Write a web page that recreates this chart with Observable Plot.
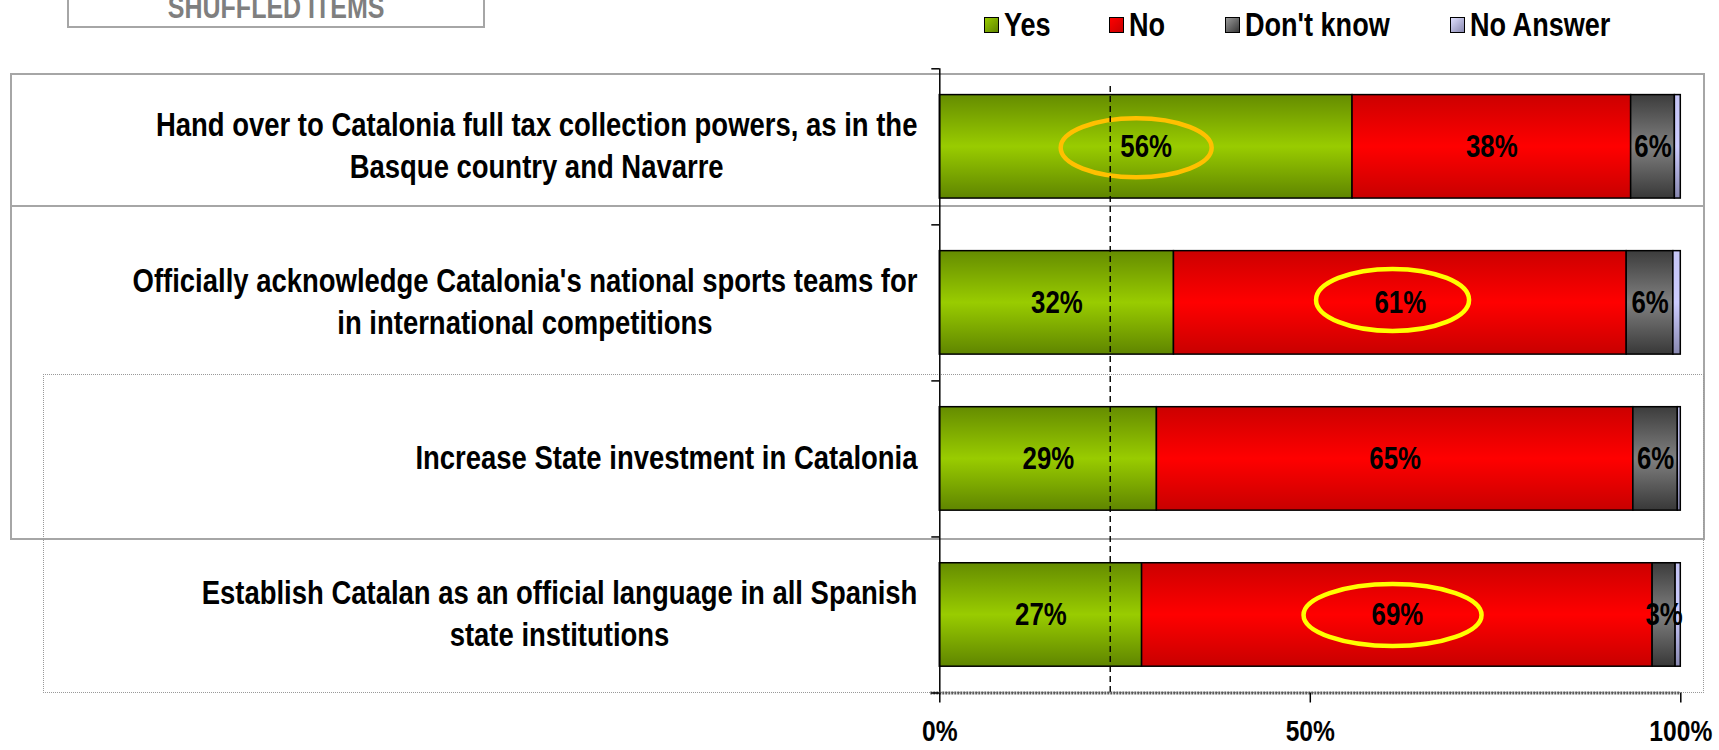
<!DOCTYPE html>
<html><head><meta charset="utf-8">
<script src="https://cdn.jsdelivr.net/npm/d3@7"></script>
<script src="https://cdn.jsdelivr.net/npm/@observablehq/plot@0.6"></script>
<style>
html,body{margin:0;padding:0;background:#fff;}
#wrap{position:relative;width:1719px;height:750px;overflow:hidden;font-family:"Liberation Sans",Arial,sans-serif;}
.box{position:absolute;box-sizing:border-box;pointer-events:none;}
#legend{position:absolute;left:0;top:0;width:1719px;height:50px;}
.lg{position:absolute;top:0;height:50px;display:flex;align-items:center;font-weight:bold;font-size:33px;color:#000;white-space:nowrap;}
.sw{width:15px;height:16px;border:1.5px solid #000;margin-right:5px;box-sizing:border-box;flex:none;}
.lg span{display:inline-block;transform-origin:left center;}
#chart{position:absolute;left:0;top:50px;}
#shuffled{position:absolute;left:67px;top:-8px;width:418px;text-align:center;font-size:30.5px;line-height:30px;font-weight:bold;color:#7f7f7f;white-space:nowrap;}
</style></head>
<body>
<svg width="0" height="0" style="position:absolute">
<defs>
<linearGradient id="g0" x1="0" y1="0" x2="0" y2="1"><stop offset="0" stop-color="#658c00"/><stop offset="0.5" stop-color="#99cc00"/><stop offset="1" stop-color="#5f8500"/></linearGradient>
<linearGradient id="g1" x1="0" y1="0" x2="0" y2="1"><stop offset="0" stop-color="#cc0000"/><stop offset="0.5" stop-color="#ff0000"/><stop offset="1" stop-color="#c80000"/></linearGradient>
<linearGradient id="g2" x1="0" y1="0" x2="0" y2="1"><stop offset="0" stop-color="#3c3c3c"/><stop offset="0.5" stop-color="#808080"/><stop offset="1" stop-color="#383838"/></linearGradient>
<linearGradient id="g3" x1="0" y1="0" x2="0" y2="1"><stop offset="0" stop-color="#c4c4f4"/><stop offset="0.5" stop-color="#ccccff"/><stop offset="1" stop-color="#8888b0"/></linearGradient>
</defs>
</svg>
<div id="wrap">
  <div class="box" style="left:10px;top:73px;width:1695px;height:134px;border:2px solid #a6a6a6;"></div>
  <div class="box" style="left:10px;top:205px;width:1695px;height:335px;border:2px solid #a6a6a6;"></div>
  <div class="box" style="left:43px;top:374px;width:1661px;height:319px;border:1px dotted #999;"></div>
  <div class="box" style="left:67px;top:-10px;width:418px;height:38px;border:2px solid #a6a6a6;"></div>
  <div id="shuffled"><span id="shuffledText" style="display:inline-block;">SHUFFLED ITEMS</span></div>
  <div id="legend"></div>
  <div id="chart"></div>
</div>
<script>
// ---- data ----
const items = [
  "Hand over to Catalonia full tax collection powers, as in the Basque country and Navarre",
  "Officially acknowledge Catalonia's national sports teams for in international competitions",
  "Increase State investment in Catalonia",
  "Establish Catalan as an official language in all Spanish state institutions"
];
const itemLines = [
  "Hand over to Catalonia full tax collection powers, as in the\nBasque country and Navarre",
  "Officially acknowledge Catalonia's national sports teams for\nin international competitions",
  "Increase State investment in Catalonia",
  "Establish Catalan as an official language in all Spanish\nstate institutions"
];
const answers = ["Yes", "No", "Don't know", "No Answer"];
const yes = [55.7, 31.6, 29.3, 27.3];
const no = [37.6, 61.1, 64.3, 68.9];
const dontKnow = [5.9, 6.3, 6.0, 3.1];
const noAnswer = [0.8, 1.0, 0.4, 0.7];
const yesLabels = ["56%", "32%", "29%", "27%"];
const noLabels = ["38%", "61%", "65%", "69%"];
const dontKnowLabels = ["6%", "6%", "6%", "3%"];
const xTicks = [0, 50, 100];
const referenceLine = 23;
const highlightRows = [0, 1, 3];
const highlightX = [26.5, 61.1, 61.1];

// ---- font: Arial Narrow look ----
const narrowOK = (() => {
  const c = document.createElement("canvas").getContext("2d");
  c.font = "bold 40px monospace";
  const a = c.measureText("Don't know ABC").width;
  c.font = "bold 40px 'Liberation Sans Narrow', monospace";
  const b = c.measureText("Don't know ABC").width;
  return Math.abs(a - b) > 0.5;
})();
const FONT = narrowOK ? "'Liberation Sans Narrow', 'Liberation Sans', Arial, sans-serif" : "'Liberation Sans', Arial, sans-serif";
const SX = narrowOK ? 1 : 0.82;
document.getElementById("wrap").style.fontFamily = FONT;
if (SX !== 1) document.getElementById("shuffledText").style.transform = `scaleX(${SX})`;

// ---- derived table ----
const series = [yes, no, dontKnow, noAnswer];
const seriesLabels = [yesLabels, noLabels, dontKnowLabels, null];
const rows = d3.range(items.length);
const segments = [];
rows.forEach(i => {
  let x0 = 0;
  answers.forEach((a, k) => {
    const v = series[k][i];
    segments.push({row: i, item: items[i], answer: a, x1: x0, x2: x0 + v, label: seriesLabels[k] ? seriesLabels[k][i] : null});
    x0 += v;
  });
});
const highlights = highlightRows.map((r, j) => ({row: r, x: highlightX[j]}));

// ---- legend ----
const legendColors = [
  "linear-gradient(135deg,#99cc00,#5f8500)",
  "linear-gradient(135deg,#ff0000,#c80000)",
  "linear-gradient(135deg,#9a9a9a,#383838)",
  "linear-gradient(135deg,#e0e0ff,#8888b0)"
];
const legendLeft = [984, 1109, 1225, 1450];
const legend = document.getElementById("legend");
answers.forEach((a, k) => {
  const it = document.createElement("div");
  it.className = "lg";
  it.style.left = legendLeft[k] + "px";
  const sw = document.createElement("div");
  sw.className = "sw";
  sw.style.background = legendColors[k];
  it.appendChild(sw);
  const t = document.createElement("span");
  t.textContent = a;
  if (SX !== 1) t.style.transform = `scaleX(${SX})`;
  it.appendChild(t);
  legend.appendChild(it);
});

// ---- ellipse symbol ----
function ellipse(rx, ry) {
  const k = 0.5523;
  return {draw(c) {
    c.moveTo(rx, 0);
    c.bezierCurveTo(rx, k * ry, k * rx, ry, 0, ry);
    c.bezierCurveTo(-k * rx, ry, -rx, k * ry, -rx, 0);
    c.bezierCurveTo(-rx, -k * ry, -k * rx, -ry, 0, -ry);
    c.bezierCurveTo(k * rx, -ry, rx, -k * ry, rx, 0);
    c.closePath();
  }};
}
const ellipseStyle = [
  {rx: 75.5, ry: 29.5, stroke: "#ffc000", dy: 1},
  {rx: 76.5, ry: 31, stroke: "#ffff00", dy: -3},
  {rx: 89, ry: 31, stroke: "#ffff00", dy: 0}
];

const PAD = 0.1685;
const plot = Plot.plot({
  width: 1719,
  height: 700,
  marginTop: 18.3,
  marginBottom: 57.5,
  marginLeft: 939.3,
  marginRight: 38.7,
  style: {fontFamily: FONT, background: "transparent", overflow: "visible"},
  x: {domain: [0, 100]},
  y: {domain: [0, items.length], reverse: true},
  color: {domain: answers, range: answers.map((a, k) => `url(#g${k})`)},
  marks: [
    Plot.rect(segments, {
      x1: "x1", x2: "x2",
      y1: d => d.row + PAD, y2: d => d.row + 1 - PAD,
      fill: "answer", stroke: "#000", strokeWidth: 1.5
    }),
    Plot.text(segments.filter(d => d.label), {
      x: d => (d.x1 + d.x2) / 2, y: d => d.row + 0.5, text: "label",
      fontSize: 31.5, fontWeight: "bold", fill: "#000"
    }),
    ...highlights.map((h, j) => Plot.dot([h], {
      x: "x", y: d => d.row + 0.5, dy: ellipseStyle[j].dy,
      symbol: ellipse(ellipseStyle[j].rx, ellipseStyle[j].ry),
      stroke: ellipseStyle[j].stroke, strokeWidth: 4.5, fill: "none"
    })),
    Plot.ruleX([referenceLine], {stroke: "#000", strokeWidth: 1.4, strokeDasharray: "6,4", insetTop: 17.7}),
    Plot.ruleX([0], {stroke: "#000", strokeWidth: 1.5}),
    Plot.ruleY([items.length], {stroke: "#5a5a5a", strokeWidth: 3, strokeDasharray: "2,1", insetLeft: -9}),
    Plot.axisY({ticks: d3.range(items.length + 1), tickSize: 8, tickFormat: () => "", stroke: "#000", strokeWidth: 1.5}),
    Plot.axisX({ticks: xTicks, tickFormat: d => d + "%", tickSize: 10, tickPadding: 17, fontSize: 30, fontWeight: "bold", stroke: "#000", strokeWidth: 1.5, fill: "#000"}),
    Plot.text(rows, {
      y: i => i + 0.5, frameAnchor: "left", text: i => itemLines[i],
      textAnchor: "end", dx: -22.3, dy: -3, fontSize: 33.5, fontWeight: "bold", lineHeight: 1.25, fill: "#000"
    })
  ]
});
document.getElementById("chart").appendChild(plot);

// centre multi-line labels inside their right-aligned block; narrow the glyphs if needed
plot.querySelectorAll("text").forEach(t => {
  const spans = t.querySelectorAll("tspan");
  if (spans.length > 1) {
    const w = Math.max(...Array.from(spans, s => s.getComputedTextLength()));
    t.setAttribute("text-anchor", "middle");
    spans.forEach(s => s.setAttribute("x", -w / 2));
  }
  if (SX !== 1) {
    const tr = t.getAttribute("transform") || "";
    t.setAttribute("transform", (tr + ` scale(${SX},1)`).trim());
  }
});
</script>
</body></html>
